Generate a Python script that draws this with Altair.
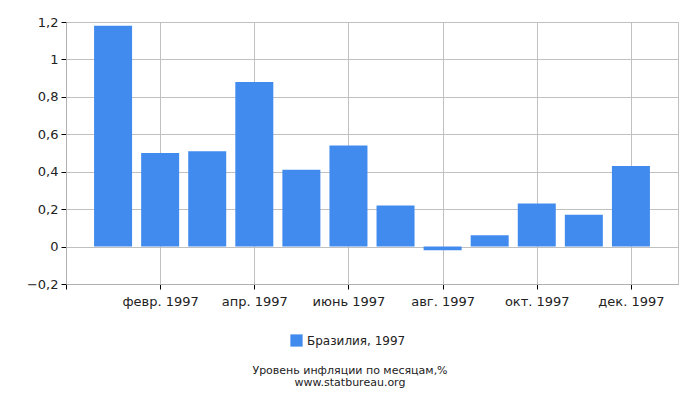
import altair as alt
import pandas as pd

months = ["янв.", "февр.", "март", "апр.", "май", "июнь", "июль", "авг.", "сент.", "окт.", "нояб.", "дек."]
month_index = [1, 2, 3, 4, 5, 6, 7, 8, 9, 10, 11, 12]
values = [1.18, 0.50, 0.51, 0.88, 0.41, 0.54, 0.22, -0.02, 0.06, 0.23, 0.17, 0.43]
series_name = "Бразилия, 1997"
tick_values = [0, 2, 4, 6, 8, 10, 12]
tick_labels = ["", "февр. 1997", "апр. 1997", "июнь 1997", "авг. 1997", "окт. 1997", "дек. 1997"]
y_ticks = [-0.2, 0, 0.2, 0.4, 0.6, 0.8, 1.0, 1.2]

df = pd.DataFrame({"m": month_index, "month": months, "value": values, "series": series_name})

label_expr = " : ".join(
    [f"datum.value == {v} ? '{l}'" for v, l in zip(tick_values, tick_labels)] + ["''"]
)

chart = alt.Chart(df).mark_bar(size=38).encode(
    x=alt.X("m:Q", scale=alt.Scale(domain=[0, 13], nice=False, zero=False, padding=0),
            axis=alt.Axis(values=tick_values, labelExpr=label_expr, title=None,
                          grid=True, gridColor="#c0c0c0", domainColor="#b0b0b0",
                          tickColor="#000000", tickSize=5, labelFontSize=13,
                          labelFont="DejaVu Sans", labelColor="#222222", labelPadding=6,
                          labelFlush=False)),
    y=alt.Y("value:Q", scale=alt.Scale(domain=[-0.2, 1.2], nice=False),
            axis=alt.Axis(values=y_ticks, title=None, grid=True, gridColor="#c0c0c0",
                          labelExpr="replace(format(datum.value, ''), '.', ',')",
                          domainColor="#b0b0b0", tickColor="#000000", tickSize=5,
                          labelFontSize=13, labelFont="DejaVu Sans", labelColor="#222222",
                          labelPadding=3)),
    color=alt.Color("series:N", scale=alt.Scale(range=["#428bee"]),
                    legend=alt.Legend(title=None, orient="none", legendX=224, legendY=312,
                                      symbolType="square", symbolSize=150, labelFontSize=12,
                                      labelFont="DejaVu Sans", labelColor="#222222",
                                      symbolStrokeWidth=0)),
).properties(
    width=612, height=262,
    padding={"left": 58, "top": 14, "right": 14, "bottom": 108},
    autosize=alt.AutoSizeParams(type="none"),
    title=alt.TitleParams(text="Уровень инфляции по месяцам,%", subtitle="www.statbureau.org",
                          orient="bottom", anchor="middle", fontSize=11, subtitleFontSize=11,
                          font="DejaVu Sans", subtitleFont="DejaVu Sans", fontWeight="normal",
                          color="#222222", subtitleColor="#222222", offset=18, subtitlePadding=1,
                          dx=-22),
).configure_view(stroke="#c0c0c0")

chart.save("out.html", embed_options={"renderer": "svg", "actions": False})
